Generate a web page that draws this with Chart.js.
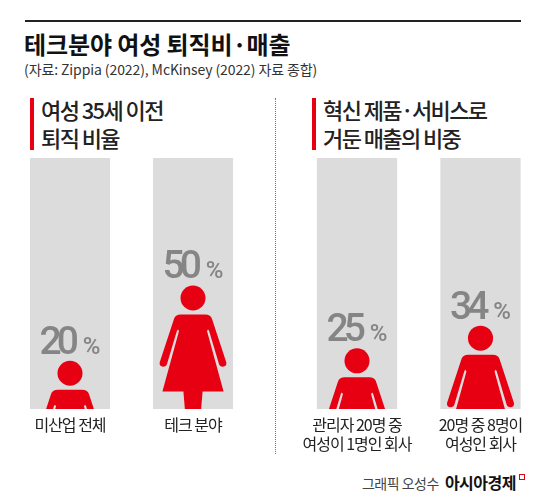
<!DOCTYPE html>
<html><head><meta charset="utf-8">
<script src="https://cdn.jsdelivr.net/npm/chart.js@4.4.1/dist/chart.umd.min.js"></script>
<style>
html,body{margin:0;padding:0;background:#fff;width:550px;height:504px;overflow:hidden;}
body{position:relative;font-family:"Noto Sans CJK KR","Noto Sans",sans-serif;}
.topline{position:absolute;left:25px;top:20px;width:496px;height:2px;background:#222;}
.title{position:absolute;left:24px;top:30px;font-size:24px;font-weight:700;letter-spacing:-0.1px;line-height:28px;color:#111;white-space:nowrap;}
.sub{position:absolute;left:24px;top:60px;font-size:14px;letter-spacing:-0.1px;line-height:18px;color:#333;white-space:nowrap;}
.head{position:absolute;top:95px;font-size:22px;font-weight:500;letter-spacing:-1.6px;line-height:28px;color:#222;white-space:nowrap;}
.redbar{position:absolute;width:4px;height:52px;background:#e60012;top:98px;}
.divider{position:absolute;left:275px;top:98px;height:356px;border-left:1px dotted #777;}
.box{position:absolute;top:158px;}
.credit{position:absolute;right:25px;top:472px;line-height:20px;white-space:nowrap;display:flex;align-items:baseline;}
.credit .who{font-size:14px;color:#444;letter-spacing:-0.5px;margin-right:6px;}
.credit .brand{font-size:16px;font-weight:700;color:#111;letter-spacing:-0.5px;}
.credit .mark{display:inline-block;width:4px;height:4px;border:1.5px solid #e60012;margin-left:3px;position:relative;top:-9px;}
</style></head>
<body>
<div class="topline"></div>
<div class="title">테크분야 여성 퇴직비·매출</div>
<div class="sub">(자료: Zippia (2022), McKinsey (2022) 자료 종합)</div>
<div class="redbar" style="left:30px"></div>
<div class="head" style="left:41px">여성 35세 이전<br>퇴직 비율</div>
<div class="divider"></div>
<div class="redbar" style="left:312px"></div>
<div class="head" style="left:323px">혁신 제품·서비스로<br>거둔 매출의 비중</div>
<div class="box" style="left:0px"><canvas id="c1" width="264" height="301"></canvas></div>
<div class="box" style="left:286px"><canvas id="c2" width="264" height="301"></canvas></div>
<div class="credit"><span class="who">그래픽 오성수</span><span class="brand">아시아경제</span><span class="mark"></span></div>
<script>
// ---- data ----
const leftCategories = [['미산업 전체'], ['테크 분야']];
const leftValues = [20, 50];
const rightCategories = [['관리자 20명 중', '여성이 1명인 회사'], ['20명 중 8명이', '여성인 회사']];
const rightValues = [25, 34];
const fullScale = [100, 100];
const valueSuffix = '%';

const RED = '#e60012';
const GRAY_BAR = '#dcdcdc';
const NUM_GRAY = '#858585';

function womanPath(ctx) {
  ctx.beginPath();
  ctx.moveTo(0, 29);
  ctx.lineTo(12, 29);
  ctx.quadraticCurveTo(18, 29, 19.2, 34);
  ctx.lineTo(33.2, 76.5);
  ctx.quadraticCurveTo(34.2, 81, 30, 81.2);
  ctx.quadraticCurveTo(26.8, 81.2, 26, 78.6);
  ctx.lineTo(16, 45);
  ctx.lineTo(15, 44);
  ctx.lineTo(14, 45.6);
  ctx.lineTo(30.6, 106);
  ctx.lineTo(9.6, 106);
  ctx.lineTo(7.6, 130);
  ctx.lineTo(-7.6, 130);
  ctx.lineTo(-9.6, 106);
  ctx.lineTo(-30.6, 106);
  ctx.lineTo(-14, 45.6);
  ctx.lineTo(-15, 44);
  ctx.lineTo(-16, 45);
  ctx.lineTo(-26, 78.6);
  ctx.quadraticCurveTo(-26.8, 81.2, -30, 81.2);
  ctx.quadraticCurveTo(-34.2, 81, -33.2, 76.5);
  ctx.lineTo(-19.2, 34);
  ctx.quadraticCurveTo(-18, 29, -12, 29);
  ctx.closePath();
  ctx.fill();
  ctx.beginPath();
  ctx.arc(0, 12.5, 12.5, 0, Math.PI * 2);
  ctx.fill();
}

function drawSpaced(ctx, text, x, y, sp) {
  for (const ch of text) {
    ctx.fillText(ch, x, y);
    x += ctx.measureText(ch).width + sp;
  }
}
function spacedWidth(ctx, text, sp) {
  let w = 0; const arr = [...text];
  arr.forEach((ch, i) => { w += ctx.measureText(ch).width + (i < arr.length - 1 ? sp : 0); });
  return w;
}

const spacingPlugin = {
  id: 'spacing',
  beforeDraw(chart) { chart.ctx.save(); if ('letterSpacing' in chart.ctx) chart.ctx.letterSpacing = '-1px'; },
  afterDraw(chart) { chart.ctx.restore(); }
};

const NUM_FONT = '500 39px Roboto';
const PCT_FONT = '500 24px Roboto';

const figurePlugin = {
  id: 'figure',
  afterDatasetsDraw(chart) {
    const ctx = chart.ctx;
    const meta = chart.getDatasetMeta(0);
    const vals = chart.data.datasets[0].data;
    meta.data.forEach((bar, i) => {
      const p = bar.getProps(['x', 'y', 'base', 'width'], true);
      const s = p.width / 80;
      const headTop = p.y + 2 * s;
      ctx.save();
      if ('letterSpacing' in ctx) ctx.letterSpacing = '0px';
      ctx.beginPath();
      ctx.rect(p.x - p.width / 2, chart.chartArea.top, p.width, p.base - chart.chartArea.top);
      ctx.clip();
      ctx.save();
      ctx.translate(p.x, headTop);
      ctx.scale(s, s);
      ctx.fillStyle = RED;
      womanPath(ctx);
      ctx.restore();
      // value label
      const num = String(vals[i]);
      ctx.fillStyle = NUM_GRAY;
      ctx.textBaseline = 'alphabetic';
      ctx.textAlign = 'left';
      ctx.font = NUM_FONT;
      const sp = -5;
      const wn = spacedWidth(ctx, num, sp);
      ctx.font = PCT_FONT;
      const wp = ctx.measureText(valueSuffix).width;
      const gap = 4;
      const total = wn + gap + wp;
      const x0 = p.x - total / 2;
      const baseY = headTop - 7;
      ctx.font = NUM_FONT;
      drawSpaced(ctx, num, x0, baseY, sp);
      ctx.font = PCT_FONT;
      ctx.fillText(valueSuffix, x0 + wn + gap, baseY);
      ctx.restore();
    });
  }
};

function makeChart(id, labels, values, padL, padR) {
  return new Chart(document.getElementById(id), {
    type: 'bar',
    data: {
      labels: labels,
      datasets: [
        { label: 'value', data: values, backgroundColor: 'rgba(0,0,0,0)', borderWidth: 0, grouped: false, categoryPercentage: 1, barPercentage: 0.65 },
        { label: 'full', data: fullScale, backgroundColor: GRAY_BAR, borderWidth: 0, grouped: false, categoryPercentage: 1, barPercentage: 0.65 }
      ]
    },
    options: {
      responsive: false,
      animation: false,
      events: [],
      layout: { padding: { left: padL, right: padR, top: 0, bottom: 0 } },
      plugins: { legend: { display: false }, tooltip: { enabled: false } },
      scales: {
        x: {
          grid: { display: false, drawTicks: false },
          border: { display: false },
          ticks: { color: '#222', font: { family: '"Noto Sans CJK KR"', size: 16, lineHeight: 1.2 }, padding: 6, maxRotation: 0, autoSkip: false },
          afterFit(scale) { scale.height = 50; }
        },
        y: { display: false, min: 0, max: 100 }
      }
    },
    plugins: [spacingPlugin, figurePlugin]
  });
}

makeChart('c1', leftCategories, leftValues, 8.5, 9.5);
makeChart('c2', rightCategories, rightValues, 9.25, 7.75);
</script>
</body></html>
